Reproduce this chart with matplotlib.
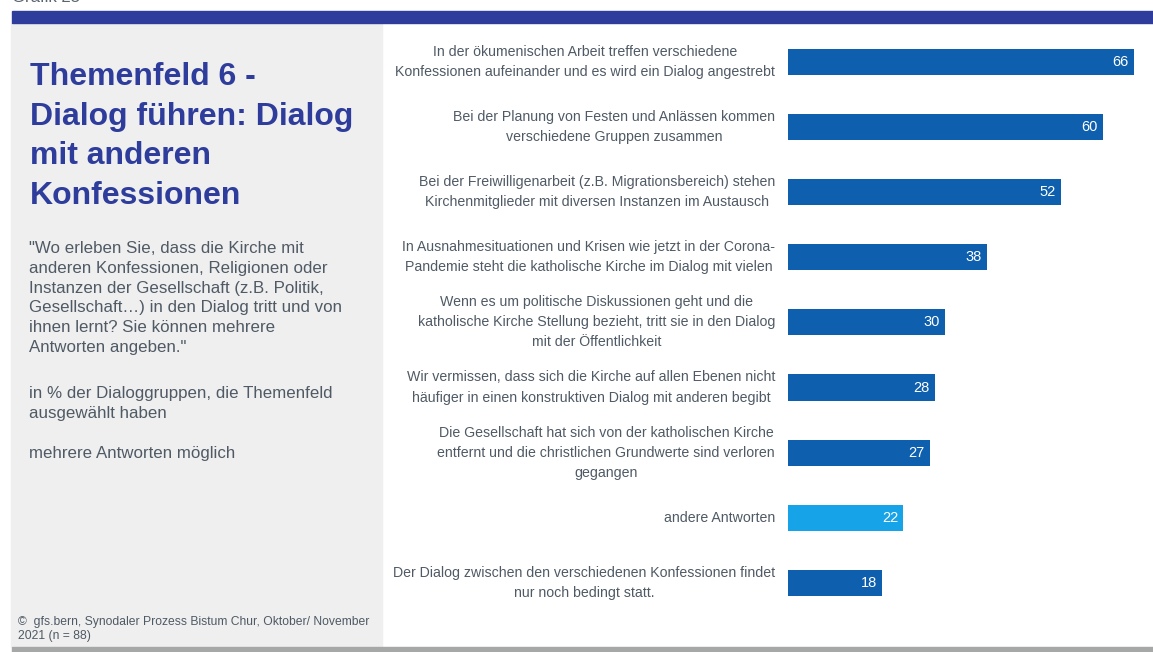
import matplotlib
matplotlib.use("Agg")
import matplotlib.pyplot as plt
import matplotlib.transforms as mtransforms
from matplotlib.patches import Rectangle

plt.rcParams['font.family'] = ['Liberation Sans', 'DejaVu Sans']

categories = [
    "In der ökumenischen Arbeit treffen verschiedene\nKonfessionen aufeinander und es wird ein Dialog angestrebt",
    "Bei der Planung von Festen und Anlässen kommen\nverschiedene Gruppen zusammen",
    "Bei der Freiwilligenarbeit (z.B. Migrationsbereich) stehen\nKirchenmitglieder mit diversen Instanzen im Austausch",
    "In Ausnahmesituationen und Krisen wie jetzt in der Corona-\nPandemie steht die katholische Kirche im Dialog mit vielen",
    "Wenn es um politische Diskussionen geht und die\nkatholische Kirche Stellung bezieht, tritt sie in den Dialog\nmit der Öffentlichkeit",
    "Wir vermissen, dass sich die Kirche auf allen Ebenen nicht\nhäufiger in einen konstruktiven Dialog mit anderen begibt",
    "Die Gesellschaft hat sich von der katholischen Kirche\nentfernt und die christlichen Grundwerte sind verloren\ngegangen",
    "andere Antworten",
    "Der Dialog zwischen den verschiedenen Konfessionen findet\nnur noch bedingt statt.",
]
values = [66, 60, 52, 38, 30, 28, 27, 22, 18]
highlight = [False, False, False, False, False, False, False, True, False]

title = "Themenfeld 6 -\nDialog führen: Dialog\nmit anderen\nKonfessionen"
question = ('"Wo erleben Sie, dass die Kirche mit\nanderen Konfessionen, Religionen oder\n'
            'Instanzen der Gesellschaft (z.B. Politik,\nGesellschaft…) in den Dialog tritt und von\n'
            'ihnen lernt? Sie können mehrere\nAntworten angeben."')
base_note = "in % der Dialoggruppen, die Themenfeld\nausgewählt haben"
multi_note = "mehrere Antworten möglich"
source = "©  gfs.bern, Synodaler Prozess Bistum Chur, Oktober/ November\n2021 (n = 88)"

W, H = 1153, 652
fig = plt.figure(figsize=(W / 100, H / 100), dpi=100)

def fx(px):
    return px / W

def fy(py):
    return 1 - py / H

# backgrounds
fig.patches.append(Rectangle((fx(11), fy(647)), fx(382) - fx(11), fy(23) - fy(647),
                             transform=fig.transFigure, color="#EFEFEF", zorder=0))
fig.patches.append(Rectangle((fx(12), fy(23)), 1 - fx(12), fy(11) - fy(23),
                             transform=fig.transFigure, color="#2E3D9C", zorder=1))
fig.patches.append(Rectangle((fx(12), 0), 1 - fx(12), fy(647),
                             transform=fig.transFigure, color="#A5A8A6", zorder=1))

# cut-off header text (only its lower edge is visible, as in the reference)
fig.text(fx(12), fy(-2.5), "Grafik 25", fontsize=12, color="#5A6470", ha="left", va="center")

# left panel texts
fig.text(fx(30), fy(62), title, fontsize=23, fontweight="bold", color="#2E3D9C",
         ha="left", va="top", linespacing=1.42)
fig.text(fx(29), fy(241), question, fontsize=12.2, color="#4F5A65",
         ha="left", va="top", linespacing=1.4)
fig.text(fx(29), fy(386), base_note, fontsize=12.2, color="#4F5A65",
         ha="left", va="top", linespacing=1.4)
fig.text(fx(29), fy(446), multi_note, fontsize=12.2, color="#4F5A65",
         ha="left", va="top")
fig.text(fx(18), fy(616), source, fontsize=8.7, color="#4F5A65",
         ha="left", va="top", linespacing=1.2)

# bar axes
n = len(values)
row = 65.1
top = 62 - row / 2
bottom = top + row * n
ax = fig.add_axes([fx(788), fy(bottom), 1 - fx(788), fy(top) - fy(bottom)])
px_per_unit = (1134 - 788) / 66
ax.set_xlim(0, (W - 788) / px_per_unit)
ax.set_ylim(n - 0.5, -0.5)
ax.axis("off")
ax.patch.set_alpha(0)

ypos = list(range(n))
colors = ["#16A3E8" if h else "#0E5FAD" for h in highlight]
ax.barh(ypos, values, height=0.4, color=colors)

for y, v in zip(ypos, values):
    ax.annotate(str(v), (v, y), xytext=(-3.8, 0), textcoords="offset points",
                ha="right", va="center", color="white", fontsize=10.5)

trans = mtransforms.blended_transform_factory(fig.transFigure, ax.transData)
for y, lab in zip(ypos, categories):
    ax.text(fx(775), y, lab, transform=trans, ha="right", va="center",
            multialignment="center", fontsize=10.2, color="#4F5A65", linespacing=1.55)

fig.savefig("out.png", dpi=100)
